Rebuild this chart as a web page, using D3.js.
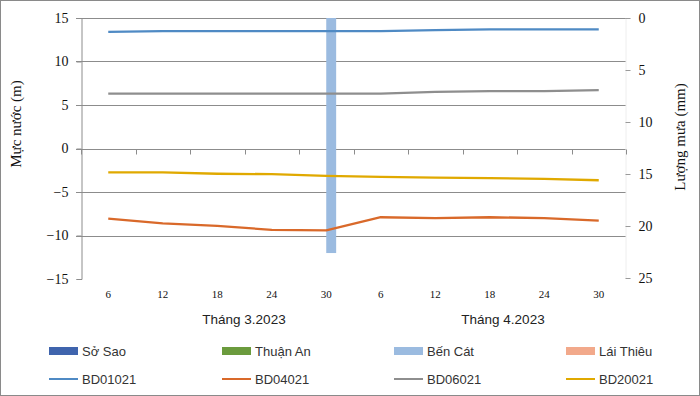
<!DOCTYPE html>
<html>
<head>
<meta charset="utf-8">
<script src="https://cdn.jsdelivr.net/npm/d3@7"></script>
<style>
body { margin: 0; background: #fff; }
svg { display: block; }
</style>
</head>
<body>
<svg width="700" height="396"></svg>
<script>
// categories: ngày (mỗi 6 ngày)
var days = ["6", "12", "18", "24", "30", "6", "12", "18", "24", "30"];
var months = ["Tháng 3.2023", "Tháng 4.2023"];

// lượng mưa (mm) - trục phải
var rainStations = ["Sở Sao", "Thuận An", "Bến Cát", "Lái Thiêu"];
var soSao    = [0, 0, 0, 0, 0, 0, 0, 0, 0, 0];
var thuanAn  = [0, 0, 0, 0, 0, 0, 0, 0, 0, 0];
var benCat   = [0, 0, 0, 0, 22.6, 0, 0, 0, 0, 0];
var laiThieu = [0, 0, 0, 0, 0, 0, 0, 0, 0, 0];

// mực nước (m) - trục trái
var wellNames = ["BD01021", "BD04021", "BD06021", "BD20021"];
var bd01021 = [13.4, 13.5, 13.5, 13.5, 13.5, 13.5, 13.6, 13.7, 13.7, 13.7];
var bd04021 = [-8.05, -8.6, -8.9, -9.35, -9.4, -7.9, -8.0, -7.9, -8.0, -8.3];
var bd06021 = [6.3, 6.3, 6.3, 6.3, 6.3, 6.3, 6.5, 6.6, 6.6, 6.7];
var bd20021 = [-2.75, -2.75, -2.9, -2.95, -3.15, -3.25, -3.35, -3.4, -3.5, -3.65];

var leftTicks = [-15, -10, -5, 0, 5, 10, 15];
var rightTicks = [0, 5, 10, 15, 20, 25];

var rainColors = ["#3f64ad", "#6b9b3d", "#9bbbe0", "#f2a98b"];
var lineColors = ["#4f8ac4", "#d9692a", "#8e8e8e", "#e0a900"];

var rain = [soSao, thuanAn, benCat, laiThieu];
var wells = [bd01021, bd04021, bd06021, bd20021];

var svg = d3.select("svg");
var width = +svg.attr("width");
var height = +svg.attr("height");

var plot = { left: 81, right: 626, top: 18, bottom: 279 };

var x = d3.scaleBand().domain(d3.range(days.length)).range([plot.left, plot.right]).padding(0);
var yL = d3.scaleLinear().domain([-15, 15]).range([plot.bottom, plot.top]);
var yR = d3.scaleLinear().domain([0, 25]).range([plot.top, plot.bottom - 1]);

// nhóm cột: 4 trạm, gap 150%
var groupW = x.bandwidth() / 5.5 * 4;
var xs = d3.scaleBand().domain(d3.range(rainStations.length)).range([-groupW / 2, groupW / 2]);

var serif = "'Liberation Serif', 'Times New Roman', serif";
var sans = "'Liberation Sans', Arial, sans-serif";

svg.append("rect")
    .attr("x", 0.5).attr("y", 0.5)
    .attr("width", width - 1).attr("height", height - 1)
    .attr("fill", "#fff").attr("stroke", "#8a8a8a");

// gridlines
svg.append("g").selectAll("line")
    .data(leftTicks.filter(d => d > -15))
    .enter().append("line")
    .attr("x1", plot.left - 5).attr("x2", plot.right)
    .attr("y1", d => Math.round(yL(d)) + 0.5)
    .attr("y2", d => Math.round(yL(d)) + 0.5)
    .attr("stroke", "#8c8c8c").attr("stroke-width", 1);

// left axis
var axL = svg.append("g")
    .attr("transform", "translate(" + (plot.left + 0.5) + ",0)")
    .call(d3.axisLeft(yL).tickValues(leftTicks).tickSize(5).tickPadding(8).tickFormat(d3.format("d")));
axL.select(".domain").attr("stroke", "#8c8c8c");
axL.selectAll(".tick line").attr("stroke", "#8c8c8c");
axL.selectAll("text").attr("font-family", serif).attr("font-size", 14).attr("fill", "#111");

// right axis
var axR = svg.append("g")
    .attr("transform", "translate(" + (plot.right - 0.5) + ",0)")
    .call(d3.axisRight(yR).tickValues(rightTicks).tickSize(5).tickPadding(8).tickFormat(d3.format("d")));
axR.select(".domain").attr("stroke", "#eeeeee");
axR.selectAll(".tick line").attr("stroke", "#9a9a9a");
axR.selectAll("text").attr("font-family", serif).attr("font-size", 14).attr("fill", "#111");

// bars
rain.forEach((vals, s) => {
    svg.append("g").selectAll("rect")
        .data(vals)
        .enter().append("rect")
        .attr("x", (d, i) => x(i) + x.bandwidth() / 2 + xs(s))
        .attr("width", xs.bandwidth())
        .attr("y", yR(0))
        .attr("height", d => yR(d) - yR(0))
        .attr("fill", rainColors[s]);
});

// horizontal axis at 0
var zeroY = Math.round(yL(0)) + 0.5;
svg.append("g").selectAll("line")
    .data(d3.range(days.length + 1))
    .enter().append("line")
    .attr("x1", i => Math.round(plot.left + i * x.bandwidth()) + 0.5)
    .attr("x2", i => Math.round(plot.left + i * x.bandwidth()) + 0.5)
    .attr("y1", zeroY).attr("y2", zeroY + 5)
    .attr("stroke", "#8c8c8c");

// lines
var line = d3.line()
    .x((d, i) => x(i) + x.bandwidth() / 2)
    .y(d => yL(d));

wells.forEach((vals, s) => {
    svg.append("path")
        .datum(vals)
        .attr("d", line)
        .attr("fill", "none")
        .attr("stroke", lineColors[s])
        .attr("stroke-width", 2.3)
        .attr("stroke-linejoin", "round");
});

// category labels
svg.append("g").selectAll("text")
    .data(days)
    .enter().append("text")
    .attr("x", (d, i) => x(i) + x.bandwidth() / 2)
    .attr("y", 298)
    .attr("text-anchor", "middle")
    .attr("font-family", serif).attr("font-size", 11).attr("fill", "#111")
    .text(d => d);

svg.append("g").selectAll("text")
    .data(months)
    .enter().append("text")
    .attr("x", (d, i) => [244, 503][i])
    .attr("y", 324)
    .attr("text-anchor", "middle")
    .attr("font-family", sans).attr("font-size", 13.5).attr("fill", "#222")
    .text(d => d);

// axis titles
svg.append("text")
    .attr("transform", "translate(21,124) rotate(-90)")
    .attr("text-anchor", "middle")
    .attr("font-family", serif).attr("font-size", 15).attr("fill", "#111")
    .text("Mực nước (m)");

svg.append("text")
    .attr("transform", "translate(685,137) rotate(-90)")
    .attr("text-anchor", "middle")
    .attr("font-family", serif).attr("font-size", 15).attr("fill", "#111")
    .text("Lượng mưa (mm)");

// legend
var legX = [49, 222, 394, 566];

var leg1 = svg.append("g").selectAll("g")
    .data(rainStations)
    .enter().append("g")
    .attr("transform", (d, i) => "translate(" + legX[i] + ",351)");
leg1.append("rect")
    .attr("x", 0).attr("y", -4).attr("width", 29).attr("height", 8)
    .attr("fill", (d, i) => rainColors[i]);
leg1.append("text")
    .attr("x", 33).attr("y", 5)
    .attr("font-family", sans).attr("font-size", 13).attr("fill", "#333")
    .text(d => d);

var leg2 = svg.append("g").selectAll("g")
    .data(wellNames)
    .enter().append("g")
    .attr("transform", (d, i) => "translate(" + legX[i] + ",379)");
leg2.append("line")
    .attr("x1", 0).attr("x2", 29).attr("y1", 0).attr("y2", 0)
    .attr("stroke", (d, i) => lineColors[i]).attr("stroke-width", 2);
leg2.append("text")
    .attr("x", 33).attr("y", 5)
    .attr("font-family", sans).attr("font-size", 13).attr("fill", "#333")
    .text(d => d);
</script>
</body>
</html>
